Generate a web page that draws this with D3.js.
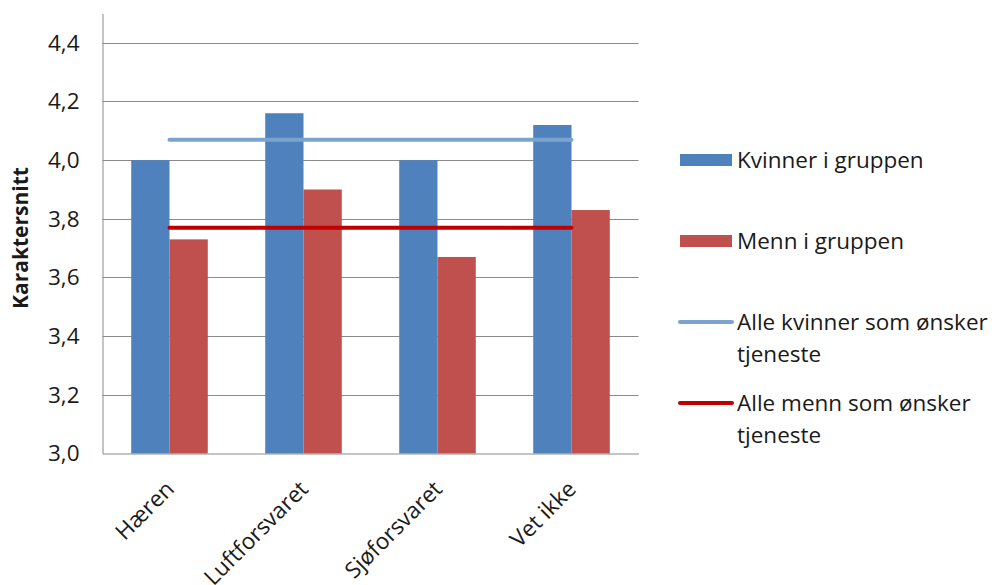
<!DOCTYPE html>
<html>
<head>
<meta charset="utf-8">
<script src="https://cdn.jsdelivr.net/npm/d3@7"></script>
<style>
  html, body { margin: 0; padding: 0; background: #fff; }
  svg text { font-family: "Open Sans", Lato, sans-serif; fill: #1a1a1a; }
</style>
</head>
<body>
<svg id="chart" width="997" height="585"></svg>
<script>
const categories = ["Hæren", "Luftforsvaret", "Sjøforsvaret", "Vet ikke"];
const kvinnerGruppen = [4.00, 4.16, 4.00, 4.12];
const mennGruppen = [3.73, 3.90, 3.67, 3.83];
const alleKvinner = [4.07, 4.07, 4.07, 4.07];
const alleMenn = [3.77, 3.77, 3.77, 3.77];
const yTicks = [3.0, 3.2, 3.4, 3.6, 3.8, 4.0, 4.2, 4.4];
const legendItems = [
  { label: ["Kvinner i gruppen"], type: "bar", color: "#4F81BD" },
  { label: ["Menn i gruppen"], type: "bar", color: "#C0504D" },
  { label: ["Alle kvinner som ønsker", "tjeneste"], type: "line", color: "#7BA3CF" },
  { label: ["Alle menn som ønsker", "tjeneste"], type: "line", color: "#C00000" }
];

(function () {
const svg = d3.select("#chart");
const pLeft = 102.5, pRight = 638.5, pTop = 13.5, pBottom = 453.5;
const FS = 22.5;

// Excel gap width 150%: band = 3.5 bar widths
const outer = d3.scaleBand().domain(categories).range([pLeft, pRight]).padding(0);
const barW = outer.bandwidth() / 3.5;
const y = d3.scaleLinear().domain([3.0, 4.5]).range([pBottom, pTop]);

// gridlines
svg.append("g").selectAll("line").data(yTicks.filter(t => t > 3.0)).join("line")
  .attr("x1", pLeft).attr("x2", pRight)
  .attr("y1", d => Math.round(y(d)) + 0.5).attr("y2", d => Math.round(y(d)) + 0.5)
  .attr("stroke", "#8a8a8a").attr("stroke-width", 1);

// y axis
const yAxis = d3.axisLeft(y).tickValues(yTicks).tickSize(0).tickPadding(23)
  .tickFormat(d => d3.format(".1f")(d).replace(".", ","));
const gy = svg.append("g").attr("transform", `translate(${pLeft},0)`).call(yAxis);
gy.select(".domain").attr("stroke", "#8a8a8a");
gy.selectAll("text").attr("font-size", FS).style("font-family", "'Open Sans', sans-serif").attr("fill", "#1a1a1a");

// bars
const center = c => outer(c) + outer.bandwidth() / 2;
svg.append("g").selectAll("rect").data(categories).join("rect")
  .attr("x", c => center(c) - barW).attr("width", barW)
  .attr("y", (c, i) => y(kvinnerGruppen[i])).attr("height", (c, i) => pBottom - y(kvinnerGruppen[i]))
  .attr("fill", "#4F81BD");
svg.append("g").selectAll("rect").data(categories).join("rect")
  .attr("x", c => center(c)).attr("width", barW)
  .attr("y", (c, i) => y(mennGruppen[i])).attr("height", (c, i) => pBottom - y(mennGruppen[i]))
  .attr("fill", "#C0504D");

// x axis
const xAxis = d3.axisBottom(outer).tickSize(0).tickFormat("");
const gx = svg.append("g").attr("transform", `translate(0,${pBottom})`).call(xAxis);
gx.select(".domain").attr("stroke", "#8a8a8a");

// x labels
svg.append("g").selectAll("text").data(categories).join("text")
  .attr("transform", c => `translate(${center(c) + 6},${pBottom + 37}) rotate(-45)`)
  .attr("text-anchor", "end")
  .attr("font-size", FS).text(c => c);

// lines
const line = d3.line().x((d, i) => center(categories[i])).y(d => y(d));
svg.append("path").datum(alleKvinner).attr("d", line)
  .attr("fill", "none").attr("stroke", "#7BA3CF").attr("stroke-width", 4).attr("stroke-linecap", "round");
svg.append("path").datum(alleMenn).attr("d", line)
  .attr("fill", "none").attr("stroke", "#C00000").attr("stroke-width", 4).attr("stroke-linecap", "round");

// y label
svg.append("text")
  .attr("transform", `translate(28,238) rotate(-90)`)
  .attr("text-anchor", "middle").attr("font-size", 21).attr("font-weight", "bold")
  .text("Karaktersnitt");

// legend
const legendY = [160, 241, 322, 403];
const lg = svg.append("g").selectAll("g").data(legendItems).join("g")
  .attr("transform", (d, i) => `translate(680,${legendY[i]})`);
lg.filter(d => d.type === "bar").append("rect")
  .attr("x", 0).attr("y", -6).attr("width", 52).attr("height", 12).attr("fill", d => d.color);
lg.filter(d => d.type === "line").append("line")
  .attr("x1", 0).attr("x2", 52).attr("y1", 0).attr("y2", 0)
  .attr("stroke", d => d.color).attr("stroke-width", 4).attr("stroke-linecap", "round");
lg.each(function(d) {
  const t = d3.select(this).append("text").attr("x", 57).attr("font-size", FS);
  d.label.forEach((l, j) => t.append("tspan").attr("x", 57).attr("y", j * 32).attr("dy", "0.35em").text(l));
});
})();
</script>
</body>
</html>
